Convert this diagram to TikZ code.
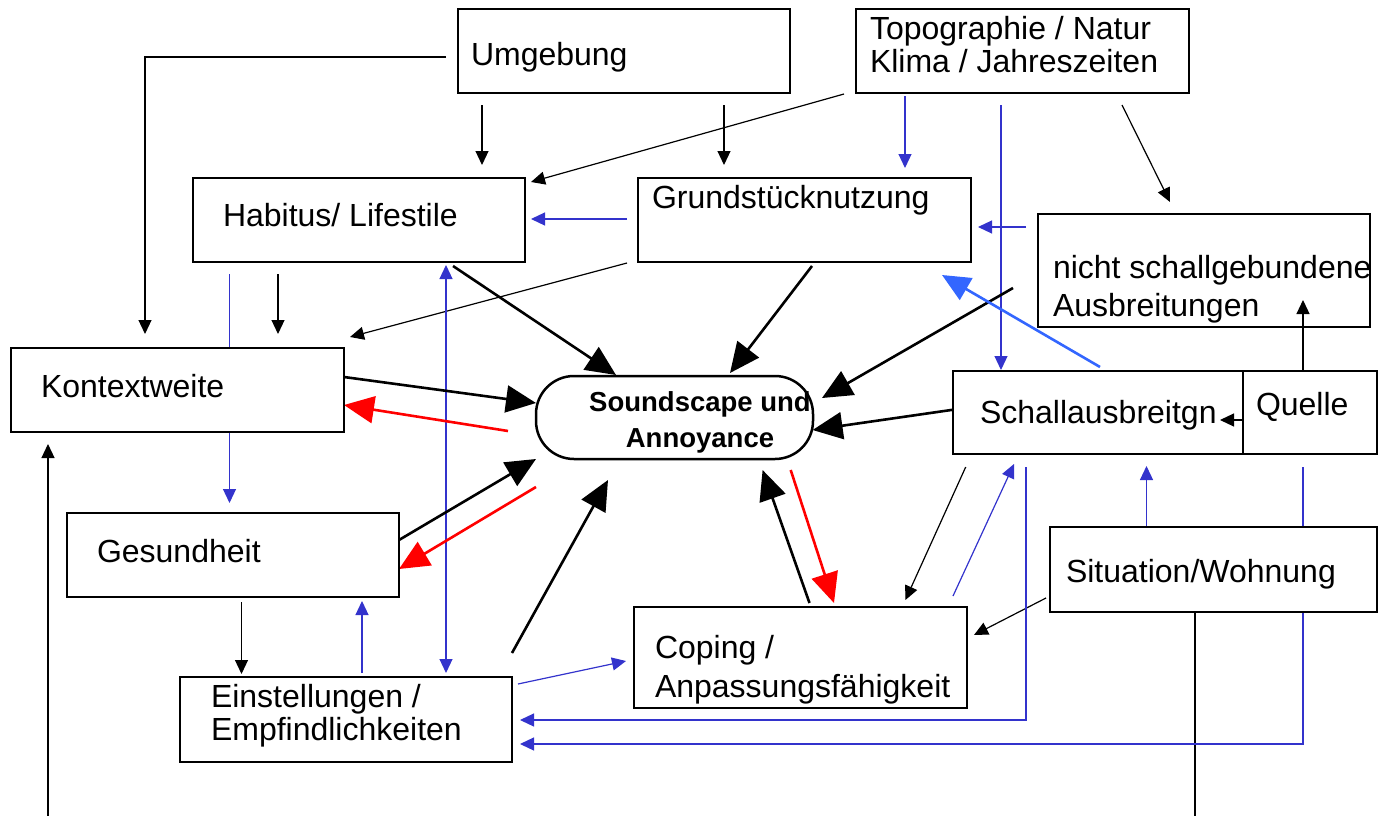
\documentclass[tikz,border=0pt]{standalone}
\usepackage{fontspec}
\setmainfont{Liberation Sans}
\usetikzlibrary{arrows.meta,calc,backgrounds}
\definecolor{lblue}{HTML}{3333CC}
\definecolor{sblue}{HTML}{3366FF}
\definecolor{ared}{HTML}{FF0000}
\begin{document}
\begin{tikzpicture}[x=1pt,y=-1pt,
 box/.style={draw=black,line width=2.5pt,fill=white,rectangle,inner sep=0pt,outer sep=0pt,anchor=north west},
 txt/.style={anchor=base west,inner sep=0pt,outer sep=0pt,font=\fontsize{32pt}{38pt}\selectfont},
 btxt/.style={anchor=base,inner sep=0pt,outer sep=0pt,font=\fontsize{27.5pt}{33pt}\selectfont\bfseries},
 thinb/.style={line width=1.2pt,draw=black,-{Triangle[length=14pt,width=13pt]}},
 thinl/.style={line width=1.2pt,draw=lblue,-{Triangle[length=14pt,width=13pt]}},
 plain/.style={line width=1.2pt,draw=black},
 plainl/.style={line width=1.2pt,draw=lblue},
 thick/.style={line width=2.6pt,draw=black,-{Triangle[length=30pt,width=27pt]}},
 thickr/.style={line width=2.6pt,draw=ared,-{Triangle[length=30pt,width=27pt]}},
 thicks/.style={line width=2.6pt,draw=sblue,-{Triangle[length=28pt,width=25pt]}},
]
\useasboundingbox (0,0) rectangle (1379,816);

% boxes
\node[box,minimum width=332pt,minimum height=84pt] (umg) at (458,9) {};
\node[box,minimum width=333pt,minimum height=84pt] (topo) at (856,9) {};
\node[box,minimum width=332pt,minimum height=84pt] (hab) at (193,178) {};
\node[box,minimum width=333pt,minimum height=84pt] (grund) at (638,178) {};
\node[box,minimum width=332pt,minimum height=113pt] (nicht) at (1038,214) {};
\node[box,minimum width=333pt,minimum height=84pt] (kont) at (11,348) {};
\node[box,rounded corners=38pt,minimum width=277pt,minimum height=83pt] (sound) at (536,376) {};
\node[box,minimum width=332pt,minimum height=84pt] (gesund) at (67,513) {};
\node[box,minimum width=332pt,minimum height=85pt] (einst) at (180,677) {};
\node[box,minimum width=333pt,minimum height=101pt] (coping) at (634,607) {};
\node[box,minimum width=290pt,minimum height=83pt] (schall) at (953,371) {};
\node[box,minimum width=134pt,minimum height=83pt] (quelle) at (1243,371) {};
\node[box,minimum width=327pt,minimum height=85pt] (sit) at (1050,527) {};

\coordinate (b1) at (1195,816);
\coordinate (b2) at (48,816);

\begin{pgfonlayer}{background}
% thin black
\draw[thinb] ($(umg.north west)+(-12,48)$) -| ($(kont.north west)+(134,-14)$);
\draw[thinb] ($(umg.north west)+(24,96)$) -- ($(hab.north west)+(289,-13)$);
\draw[thinb] ($(umg.north west)+(266,96)$) -- ($(grund.north west)+(86,-13)$);
\draw[thinb] ($(topo.north west)+(-12,85)$) -- ($(hab.north west)+(338,4)$);
\draw[thinb] ($(topo.north west)+(266,96)$) -- ($(nicht.north west)+(132,-12)$);
\draw[thinb] ($(grund.north west)+(-11,85)$) -- ($(kont.north west)+(339,-11)$);
\draw[thinb] ($(hab.north west)+(85,96)$) -- ($(kont.north west)+(267,-14)$);
\draw[thinb] ($(gesund.north west)+(174.5,89)$) -- ($(einst.north west)+(61.5,-3)$);
\draw[thinb] ($(schall.north west)+(12.7,96)$) -- ($(coping.north west)+(271.4,-7)$);
\draw[thinb] ($(sit.north west)+(-4,71)$) -- ($(coping.north west)+(340,28)$);
\draw[plain] ($(sit.north west)+(145,85)$) -- (b1);
\draw[thinb] (b2) -- ($(kont.north west)+(37,96)$);
% thin blue
\draw[thinl] ($(topo.north west)+(49,87)$) -- ($(grund.north west)+(267,-10)$);
\draw[thinl] ($(topo.north west)+(145,96)$) -- ($(schall.north west)+(48,-1)$);
\draw[thinl] ($(nicht.north west)+(-12,13)$) -- ($(grund.north west)+(340,49)$);
\draw[thinl] ($(grund.north west)+(-11,41)$) -- ($(hab.north west)+(338,41)$);
\draw[thinl] ($(hab.north west)+(36.5,96)$) -- ($(gesund.north west)+(162.5,-10)$);
\draw[thinl,{Triangle[length=14pt,width=13pt]}-{Triangle[length=14pt,width=13pt]}] ($(hab.north west)+(253,87)$) -- ($(einst.north west)+(266,-4)$);
\draw[thinl] ($(einst.north west)+(182,-4)$) -- ($(gesund.north west)+(295,88)$);
\draw[thinl] ($(einst.north west)+(338,7)$) -- ($(coping.north west)+(-8,54)$);
\draw[thinl] ($(coping.north west)+(319,-11)$) -- ($(schall.north west)+(61,93)$);
\draw[thinl] ($(schall.north west)+(73,96)$) |- ($(einst.north west)+(340,43)$);
\draw[thinl] ($(quelle.north west)+(60,96)$) |- ($(einst.north west)+(340,67)$);
\draw[thinl] ($(sit.north west)+(96.5,-1)$) -- ($(schall.north west)+(193.5,95)$);
% thick
\draw[thick] ($(nicht.north west)+(-25,74)$) -- ($(sound.north west)+(286,22)$);
\draw[thick] ($(hab.north west)+(260,88)$) -- ($(sound.north west)+(80,-1)$);
\draw[thick] ($(grund.north west)+(174,88)$) -- ($(sound.north west)+(194,-3)$);
\draw[thick] ($(kont.north west)+(333,29)$) -- ($(sound.north west)+(0,27)$);
\draw[thick] ($(gesund.north west)+(332,27)$) -- ($(sound.north west)+(0,83)$);
\draw[thick] ($(einst.north west)+(332,-24)$) -- ($(sound.north west)+(72,104)$);
\draw[thick] ($(coping.north west)+(175.5,-4)$) -- ($(sound.north west)+(226.6,94)$);
\draw[thick] ($(schall.north west)+(12,37)$) -- ($(sound.north west)+(276.6,54)$);
\draw[thickr] ($(sound.north west)+(-28,55)$) -- ($(kont.north west)+(333,57)$);
\draw[thickr] ($(sound.north west)+(0,111)$) -- ($(gesund.north west)+(332,56)$);
\draw[thickr] ($(sound.north west)+(254.7,94)$) -- ($(coping.north west)+(200,-4)$);
\draw[thicks] ($(schall.north west)+(147,-4)$) -- ($(grund.north west)+(304,97)$);
\end{pgfonlayer}

\draw[thinb] ($(quelle.north west)+(0,49)$) -- ($(schall.north west)+(267,49)$);
\draw[thinb] ($(quelle.north west)+(60,0)$) -- ($(nicht.north west)+(265,86)$);

% texts
\node[txt] (t1) at (471,66) {Umgebung};
\node[txt] (t2a) at (870,40) {Topographie / Natur};
\node[txt] (t2b) at (870,73) {Klima / Jahreszeiten};
\node[txt] (t3) at (223,226) {Habitus/ Lifestile};
\node[txt] (t4) at (652,208) {Grundstücknutzung};
\node[txt] (t5a) at (1053,278) {nicht schallgebundene};
\node[txt] (t5b) at (1053,316) {Ausbreitungen};
\node[txt] (t6) at (41,397) {Kontextweite};
\node[txt] (t7) at (97,562) {Gesundheit};
\node[txt] (t8a) at (211,707) {Einstellungen /};
\node[txt] (t8b) at (211,740) {Empfindlichkeiten};
\node[btxt] (t9a) at (700,411) {Soundscape und};
\node[btxt] (t9b) at (700,447) {Annoyance};
\node[txt] (t10a) at (655,658) {Coping /};
\node[txt] (t10b) at (655,697) {Anpassungsfähigkeit};
\node[txt] (t11) at (980,423) {Schallausbreitgn};
\node[txt] (t12) at (1256,415) {Quelle};
\node[txt] (t13) at (1066,582) {Situation/Wohnung};
\end{tikzpicture}
\end{document}
